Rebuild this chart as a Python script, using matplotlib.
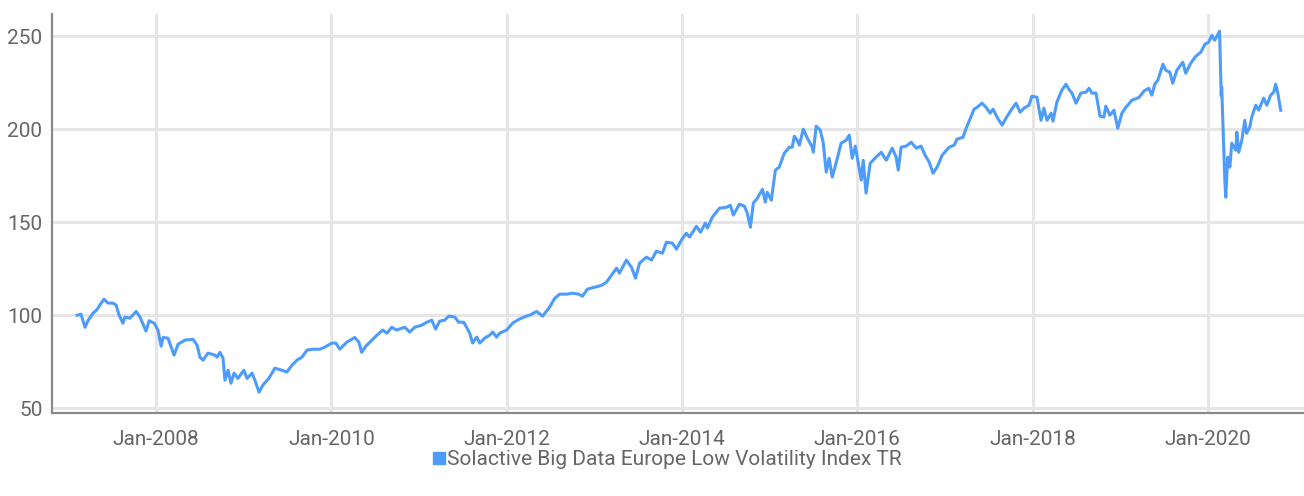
import matplotlib

matplotlib.use("Agg")

import matplotlib.dates as mdates
import matplotlib.pyplot as plt
import pandas as pd
from matplotlib.lines import Line2D

SERIES_NAME = "Solactive Big Data Europe Low Volatility Index TR"

dates = [
    "2007-02-06", "2007-02-22", "2007-03-11", "2007-03-23", "2007-04-13", "2007-04-30",
    "2007-05-12", "2007-05-29", "2007-06-14", "2007-07-05", "2007-07-18", "2007-07-31",
    "2007-08-16", "2007-08-24", "2007-09-14", "2007-10-10", "2007-10-26", "2007-11-20",
    "2007-12-03", "2007-12-24", "2008-01-09", "2008-01-22", "2008-01-30", "2008-02-20",
    "2008-03-16", "2008-04-02", "2008-05-01", "2008-06-03", "2008-06-20", "2008-07-02",
    "2008-07-15", "2008-08-04", "2008-09-03", "2008-09-11", "2008-09-23", "2008-10-06",
    "2008-10-14", "2008-10-27", "2008-11-08", "2008-11-21", "2008-12-07", "2009-01-01",
    "2009-01-14", "2009-02-04", "2009-02-16", "2009-03-05", "2009-03-21", "2009-04-15",
    "2009-05-10", "2009-06-08", "2009-06-29", "2009-07-20", "2009-08-10", "2009-08-31",
    "2009-09-21", "2009-10-15", "2009-11-14", "2009-12-04", "2010-01-03", "2010-01-19",
    "2010-02-05", "2010-03-06", "2010-04-08", "2010-04-25", "2010-05-07", "2010-05-24",
    "2010-06-10", "2010-07-09", "2010-08-03", "2010-08-20", "2010-09-09", "2010-09-30",
    "2010-11-02", "2010-11-23", "2010-12-14", "2011-01-12", "2011-02-02", "2011-02-23",
    "2011-03-11", "2011-03-28", "2011-04-18", "2011-05-05", "2011-05-30", "2011-06-15",
    "2011-07-06", "2011-07-18", "2011-07-31", "2011-08-12", "2011-08-29", "2011-09-11",
    "2011-10-01", "2011-10-22", "2011-11-04", "2011-11-20", "2011-12-03", "2012-01-01",
    "2012-01-26", "2012-02-24", "2012-03-24", "2012-04-06", "2012-05-05", "2012-05-30",
    "2012-06-28", "2012-07-19", "2012-08-09", "2012-09-07", "2012-10-02", "2012-10-27",
    "2012-11-12", "2012-12-03", "2013-01-01", "2013-01-30", "2013-02-20", "2013-03-13",
    "2013-04-03", "2013-04-15", "2013-05-14", "2013-06-04", "2013-06-21", "2013-07-08",
    "2013-08-06", "2013-08-27", "2013-09-16", "2013-10-11", "2013-10-28", "2013-11-22",
    "2013-12-09", "2013-12-29", "2014-01-19", "2014-02-01", "2014-03-02", "2014-03-19",
    "2014-04-08", "2014-04-17", "2014-05-07", "2014-06-06", "2014-07-05", "2014-07-21",
    "2014-08-03", "2014-08-28", "2014-09-18", "2014-09-30", "2014-10-13", "2014-10-25",
    "2014-11-11", "2014-12-02", "2014-12-14", "2014-12-22", "2015-01-08", "2015-01-25",
    "2015-02-10", "2015-03-03", "2015-03-24", "2015-04-05", "2015-04-14", "2015-04-26",
    "2015-05-05", "2015-05-21", "2015-06-07", "2015-06-28", "2015-07-02", "2015-07-14",
    "2015-07-31", "2015-08-12", "2015-08-25", "2015-09-06", "2015-09-19", "2015-10-06",
    "2015-10-26", "2015-11-16", "2015-11-29", "2015-12-11", "2015-12-24", "2016-01-18",
    "2016-01-26", "2016-02-07", "2016-02-24", "2016-03-20", "2016-04-10", "2016-05-01",
    "2016-05-26", "2016-06-11", "2016-06-20", "2016-07-02", "2016-07-23", "2016-08-13",
    "2016-09-03", "2016-09-23", "2016-10-10", "2016-10-27", "2016-11-12", "2016-11-29",
    "2016-12-20", "2017-01-18", "2017-02-08", "2017-02-20", "2017-03-17", "2017-03-30",
    "2017-04-15", "2017-05-02", "2017-05-15", "2017-06-04", "2017-06-21", "2017-07-08",
    "2017-07-20", "2017-08-10", "2017-08-27", "2017-09-12", "2017-10-03", "2017-10-24",
    "2017-11-10", "2017-11-26", "2017-12-17", "2017-12-29", "2018-01-19", "2018-02-05",
    "2018-02-17", "2018-03-02", "2018-03-19", "2018-03-27", "2018-04-12", "2018-05-03",
    "2018-05-20", "2018-06-01", "2018-06-14", "2018-07-01", "2018-07-21", "2018-08-11",
    "2018-08-24", "2018-09-05", "2018-09-22", "2018-10-09", "2018-10-25", "2018-11-02",
    "2018-11-19", "2018-12-06", "2018-12-22", "2019-01-08", "2019-01-25", "2019-02-19",
    "2019-03-20", "2019-04-10", "2019-04-30", "2019-05-13", "2019-05-25", "2019-06-07",
    "2019-06-28", "2019-07-10", "2019-07-27", "2019-08-08", "2019-08-25", "2019-09-19",
    "2019-10-01", "2019-10-22", "2019-11-12", "2019-12-03", "2019-12-20", "2020-01-05",
    "2020-01-18", "2020-01-30", "2020-02-19", "2020-02-26", "2020-02-28", "2020-03-12",
    "2020-03-16", "2020-03-24", "2020-04-02", "2020-04-10", "2020-04-27", "2020-05-01",
    "2020-05-09", "2020-05-22", "2020-06-03", "2020-06-11", "2020-06-24", "2020-07-02",
    "2020-07-19", "2020-07-31", "2020-08-21", "2020-09-03", "2020-09-19", "2020-10-02",
    "2020-10-10", "2020-10-18", "2020-10-31",
]

index_level = [
    100.0, 100.5, 93.5, 97.0, 101.0, 103.0,
    105.5, 108.6, 106.5, 106.5, 105.5, 100.0,
    95.7, 99.0, 98.4, 102.0, 99.0, 91.4,
    97.0, 95.7, 92.0, 83.3, 88.0, 87.6,
    78.5, 84.4, 86.6, 87.0, 83.9, 77.4,
    75.8, 79.6, 78.5, 77.4, 80.0, 76.9,
    65.0, 70.4, 63.4, 68.8, 66.0, 70.4,
    66.0, 68.8, 65.0, 58.6, 62.4, 66.0,
    71.5, 70.4, 69.4, 73.0, 75.8, 77.4,
    81.2, 81.7, 81.7, 82.8, 85.0, 85.0,
    81.7, 85.5, 88.0, 85.5, 80.0, 83.3,
    85.5, 89.2, 92.0, 90.3, 93.5, 92.0,
    93.5, 90.9, 93.5, 94.6, 96.2, 97.3,
    92.5, 96.8, 97.3, 99.5, 99.0, 96.2,
    96.2, 93.5, 90.3, 85.0, 88.2, 85.0,
    87.6, 89.2, 90.9, 88.2, 90.3, 92.0,
    95.7, 98.0, 99.5, 100.0, 102.0, 99.5,
    104.3, 109.0, 111.3, 111.3, 111.8, 111.3,
    110.2, 114.0, 115.0, 116.0, 117.7, 121.5,
    125.3, 122.6, 129.6, 125.8, 119.9, 128.0,
    131.2, 129.6, 134.4, 133.3, 139.2, 138.7,
    135.5, 140.3, 144.1, 142.0, 147.8, 144.6,
    149.5, 146.8, 152.7, 157.5, 158.0, 159.1,
    153.8, 159.7, 158.6, 154.8, 147.3, 160.2,
    162.9, 167.7, 160.8, 166.1, 161.8, 178.0,
    179.6, 187.1, 190.3, 190.3, 196.2, 194.1,
    191.4, 200.0, 195.2, 190.3, 187.6, 201.6,
    199.5, 193.0, 176.9, 184.4, 174.2, 182.3,
    192.5, 194.1, 196.8, 184.4, 190.9, 172.6,
    183.3, 165.6, 181.7, 185.0, 187.6, 183.3,
    189.8, 185.0, 178.0, 190.3, 190.9, 193.0,
    189.8, 190.9, 186.0, 182.3, 176.3, 179.6,
    186.0, 190.3, 191.4, 194.6, 195.7, 200.5,
    205.4, 210.8, 211.8, 214.0, 211.8, 208.6,
    210.8, 205.5, 202.2, 205.9, 210.2, 214.0,
    209.1, 211.3, 212.9, 217.7, 217.2, 204.8,
    211.3, 204.8, 208.6, 204.3, 214.5, 221.0,
    224.2, 221.5, 219.4, 214.0, 219.4, 219.9,
    222.0, 219.4, 219.4, 207.0, 206.5, 212.4,
    207.5, 210.2, 200.5, 208.6, 211.8, 215.6,
    217.0, 220.5, 222.0, 218.3, 224.2, 226.3,
    234.9, 231.7, 230.6, 224.7, 231.7, 236.0,
    230.1, 235.5, 239.2, 241.4, 245.7, 246.8,
    250.5, 247.8, 252.7, 218.0, 222.6, 172.6,
    163.4, 185.0, 179.6, 192.5, 188.7, 198.4,
    187.6, 194.1, 204.8, 197.8, 201.1, 206.5,
    212.9, 210.2, 216.7, 212.9, 218.3, 219.9,
    224.2, 219.9, 210.2,
]

y_ticks = [50, 100, 150, 200, 250]
x_tick_years = [2008, 2010, 2012, 2014, 2016, 2018, 2020]

line_color = "#4d9cfb"
grid_color = "#e6e6e6"
text_color = "#666666"

plt.rcParams["font.family"] = ["Roboto", "DejaVu Sans"]

df = pd.DataFrame({"date": pd.to_datetime(dates), "level": index_level})

fig = plt.figure(figsize=(13.04, 4.96), dpi=100)
ax = fig.add_axes([0.040, 0.167, 0.960, 0.805])

ax.plot(df["date"], df["level"], color=line_color, lw=2.2, solid_joinstyle="round", zorder=3)

ax.set_ylim(47.3, 262)
ax.set_xlim(pd.Timestamp("2006-10-25"), pd.Timestamp("2021-02-05"))

ax.set_yticks(y_ticks)
ax.set_xticks([pd.Timestamp(f"{y}-01-01") for y in x_tick_years])
ax.xaxis.set_major_formatter(mdates.DateFormatter("%b-%Y"))

ax.grid(True, color=grid_color, lw=2.2, zorder=0)
ax.set_axisbelow(True)

ax.tick_params(axis="both", length=0, labelsize=15, colors=text_color)
ax.tick_params(axis="x", pad=12)
ax.tick_params(axis="y", pad=7)

for side in ("top", "right"):
    ax.spines[side].set_visible(False)
for side in ("left", "bottom"):
    ax.spines[side].set_color("#8a8a8a")
    ax.spines[side].set_linewidth(1.6)

handle = Line2D([], [], color=line_color, marker="s", linestyle="none", markersize=8.5)
fig.legend(
    [handle],
    [SERIES_NAME],
    loc="center",
    bbox_to_anchor=(0.511, 0.074),
    frameon=False,
    fontsize=15,
    labelcolor=text_color,
    handletextpad=0.0,
    handlelength=0.8,
    borderpad=0.1,
)

fig.savefig("out.png", dpi=100)
